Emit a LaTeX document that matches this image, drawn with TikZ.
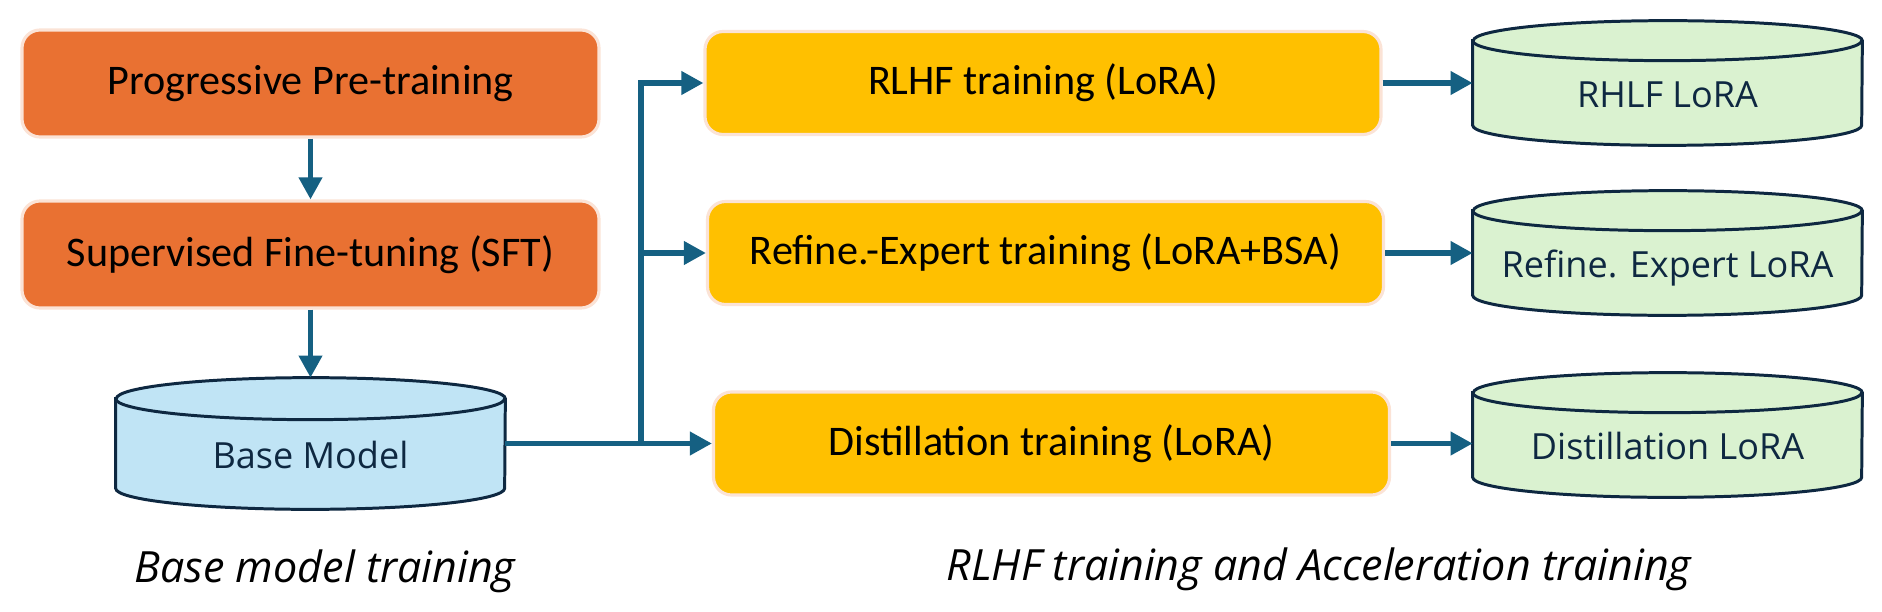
\documentclass[tikz,border=0pt]{standalone}
\usepackage{fontspec}
\setmainfont{Carlito}
\newfontfamily\dbfont{Open Sans}
\usepackage{xcolor}
\usetikzlibrary{arrows.meta,backgrounds}

\definecolor{stageorange}{HTML}{E97132}
\definecolor{stageyellow}{HTML}{FFC000}
\definecolor{glowpink}{HTML}{FBE3D6}
\definecolor{flowblue}{HTML}{156082}
\definecolor{dbedge}{HTML}{0E2841}
\definecolor{dbblue}{HTML}{C0E4F5}
\definecolor{dbgreen}{HTML}{DAF2D0}

% cylinder body behind a named node: name, fill colour, half height of the ellipse
\newcommand{\dbshape}[3]{%
  \begin{pgfonlayer}{background}
  \filldraw[dbline,fill=#2] ([yshift=-#3]#1.north west) -- ([yshift=#3]#1.south west)
    arc[start angle=180,end angle=360,x radius=3.89cm,y radius=#3]
    -- ([yshift=-#3]#1.north east)
    arc[start angle=0,end angle=180,x radius=3.89cm,y radius=#3] -- cycle;
  \draw[dbline] ([yshift=-#3]#1.north west)
    arc[start angle=180,end angle=360,x radius=3.89cm,y radius=#3];
  \end{pgfonlayer}}

\begin{document}
\begin{tikzpicture}[
  stagebox/.style={draw=glowpink,line width=1.8pt,rounded corners=0.36cm,
                   minimum width=11.54cm,minimum height=2.14cm,
                   font=\fontsize{24}{28}\selectfont},
  trainbox/.style={stagebox,fill=stageyellow,minimum width=13.52cm,minimum height=2.06cm},
  dbnode/.style={inner sep=0pt,minimum width=7.78cm,text=dbedge,
                 text height=1.2cm,text depth=0.22cm,
                 font=\dbfont\fontsize{20.5}{24}\selectfont},
  dbline/.style={draw=dbedge,line width=1.7pt},
  arr/.style={-{Triangle[length=12.5pt,width=12.8pt]},line width=3pt,flowblue},
  caption/.style={font=\dbfont\itshape\fontsize{24.5}{29}\selectfont}]

  \useasboundingbox (0,0) rectangle (37.64,-12.24);

  \node[stagebox,fill=stageorange] (pre) at (6.21,-1.67) {Progressive Pre-training};
  \node[stagebox,fill=stageorange] (sft) at (6.21,-5.09) {Supervised Fine-tuning (SFT)};
  \node[dbnode,minimum height=2.62cm] (base) at (6.21,-8.87) {Base Model};
  \dbshape{base}{dbblue}{0.42cm}

  \draw[arr] (pre)--(sft);
  \draw[arr] (sft)--(base);

  \node[trainbox] (rlhf)    at (20.86,-1.66) {RLHF training (LoRA)};
  \node[trainbox] (refine)  at (20.91,-5.06) {Refine.-Expert training (LoRA+BSA)};
  \node[trainbox] (distill) at (21.03,-8.87) {Distillation training (LoRA)};

  \coordinate (split) at (12.82,-8.87);
  \draw[arr] (base.east)--(split)--(distill.west);
  \draw[arr] (split)|-(rlhf.west);
  \draw[arr] (split)|-(refine.west);

  \node[dbnode,minimum height=2.48cm] (lora1) at (33.35,-1.66) {RHLF LoRA};
  \node[dbnode,minimum height=2.48cm] (lora2) at (33.35,-5.06) {Refine. Expert LoRA};
  \node[dbnode,minimum height=2.48cm] (lora3) at (33.35,-8.70) {Distillation LoRA};
  \dbshape{lora1}{dbgreen}{0.4cm}
  \dbshape{lora2}{dbgreen}{0.4cm}
  \dbshape{lora3}{dbgreen}{0.4cm}

  \draw[arr] (rlhf.east)--(rlhf.east-|lora1.west);
  \draw[arr] (refine.east)--(refine.east-|lora2.west);
  \draw[arr] (distill.east)--(distill.east-|lora3.west);

  \node[caption] (cap1) at (6.5,-11.42)  {Base model training};
  \node[caption] (cap2) at (26.38,-11.38) {RLHF training and Acceleration training};
\end{tikzpicture}
\end{document}
